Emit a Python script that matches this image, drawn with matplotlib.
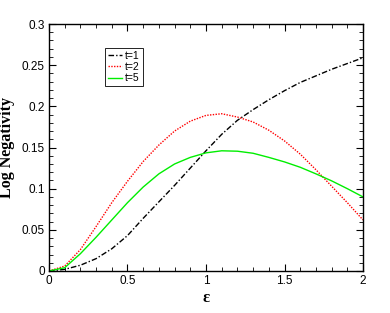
import numpy as np
import matplotlib
matplotlib.use("Agg")
import matplotlib.pyplot as plt
from matplotlib.ticker import MultipleLocator

# values
eps = [0.0, 0.1, 0.2, 0.3, 0.4, 0.5, 0.6, 0.7, 0.8, 0.9, 1.0,
       1.1, 1.2, 1.3, 1.4, 1.5, 1.6, 1.7, 1.8, 1.9, 2.0]
ln_t1 = [0.0, 0.002, 0.007, 0.015, 0.027, 0.043, 0.064, 0.084, 0.104, 0.125, 0.146,
         0.166, 0.183, 0.196, 0.208, 0.219, 0.229, 0.237, 0.245, 0.252, 0.259]
ln_t2 = [0.0, 0.006, 0.026, 0.054, 0.083, 0.109, 0.133, 0.153, 0.170, 0.182, 0.189,
         0.191, 0.187, 0.181, 0.171, 0.158, 0.142, 0.123, 0.103, 0.083, 0.062]
ln_t5 = [0.0, 0.004, 0.021, 0.041, 0.062, 0.083, 0.102, 0.118, 0.130, 0.138, 0.1435,
         0.146, 0.1455, 0.143, 0.138, 0.1325, 0.126, 0.118, 0.1095, 0.100, 0.090]
labels = ["t=1", "t=2", "t=5"]
xticks = [0, 0.5, 1, 1.5, 2]
xticklabels = ["0", "0.5", "1", "1.5", "2"]
yticks = [0, 0.05, 0.1, 0.15, 0.2, 0.25, 0.3]
yticklabels = ["0", "0.05", "0.1", "0.15", "0.2", "0.25", "0.3"]

plt.rcParams['font.family'] = ['Liberation Sans', 'DejaVu Sans']

fig = plt.figure(figsize=(3.9, 3.13), dpi=100)
ax = fig.add_axes([0.1256, 0.1342, 0.8052, 0.7891])

ax.plot(eps, ln_t1, color='black', lw=1.0, ls=(0, (4, 1.5, 1, 1.5)), label=labels[0])
ax.plot(eps, ln_t2, color='red', lw=1.0, ls=(0, (1, 1)), label=labels[1])
ax.plot(eps, ln_t5, color='#00ee00', lw=1.0, ls='-', label=labels[2])

ax.set_xlim(0, 2)
ax.set_ylim(0, 0.3)
ax.set_xticks(xticks)
ax.set_xticklabels(xticklabels)
ax.set_yticks(yticks)
ax.set_yticklabels(yticklabels)
ax.xaxis.set_minor_locator(MultipleLocator(0.1))
ax.yaxis.set_minor_locator(MultipleLocator(0.01))
ax.tick_params(which='both', direction='in', top=True, right=True, labelsize=8.5, pad=3)
ax.tick_params(which='major', length=5, width=0.8)
ax.tick_params(which='minor', length=3, width=0.6)
for s in ax.spines.values():
    s.set_linewidth(1.0)

ax.set_xlabel("ε", family='Liberation Serif', fontweight='bold', fontsize=12, labelpad=2)
ax.set_ylabel("Log Negativity", family='Liberation Serif', fontweight='bold', fontsize=11.5, labelpad=5)

leg = ax.legend(loc='upper left', bbox_to_anchor=(0.178, 0.903), borderaxespad=0, fontsize=7.5,
                handlelength=1.3, handletextpad=0.3, borderpad=0.3,
                labelspacing=0.1, fancybox=False, framealpha=1)
leg.get_frame().set_edgecolor('black')
leg.get_frame().set_linewidth(0.6)

fig.savefig("out.png", dpi=100)
